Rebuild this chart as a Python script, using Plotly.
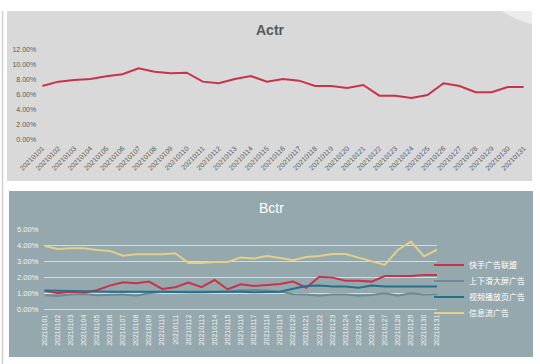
import plotly.graph_objects as go

dates = [f"202101{d:02d}" for d in range(1, 32)]

actr = [7.20, 7.78, 8.00, 8.13, 8.49, 8.76, 9.56, 9.10, 8.89, 8.98, 7.78, 7.56, 8.13, 8.53, 7.78,
        8.13, 7.91, 7.20, 7.20, 6.93, 7.33, 5.91, 5.91, 5.60, 6.00, 7.56, 7.20, 6.36, 6.36, 7.07, 7.07]

kuaishou = [1.17, 1.00, 1.08, 1.04, 1.19, 1.48, 1.69, 1.63, 1.73, 1.27, 1.38, 1.67, 1.38, 1.83, 1.25,
            1.56, 1.46, 1.50, 1.58, 1.73, 1.35, 2.04, 1.98, 1.79, 1.79, 1.73, 2.08, 2.08, 2.08, 2.15, 2.15]
huaping = [0.88, 0.83, 0.92, 0.96, 0.88, 0.92, 0.92, 0.85, 1.00, 1.10, 1.12, 1.12, 1.12, 1.12, 1.12,
           1.19, 1.21, 1.17, 1.12, 0.94, 0.92, 0.85, 0.92, 0.92, 0.85, 0.90, 1.00, 0.85, 1.00, 0.92, 0.94]
shipin = [1.17, 1.15, 1.15, 1.13, 1.10, 1.10, 1.10, 1.08, 1.10, 1.10, 1.06, 1.06, 1.06, 1.10, 1.10,
          1.10, 1.06, 1.08, 1.10, 1.29, 1.46, 1.48, 1.42, 1.42, 1.35, 1.48, 1.42, 1.42, 1.42, 1.42, 1.42]
xinxiliu = [3.96, 3.77, 3.81, 3.81, 3.71, 3.65, 3.35, 3.44, 3.44, 3.44, 3.50, 2.90, 2.90, 2.96, 2.96,
            3.23, 3.17, 3.33, 3.21, 3.06, 3.27, 3.33, 3.46, 3.46, 3.23, 3.00, 2.77, 3.71, 4.23, 3.31, 3.73]

b_names = ["快手广告联盟", "上下滑大屏广告", "视频播放页广告", "信息流广告"]
b_series = [kuaishou, huaping, shipin, xinxiliu]
b_colors = ["#c8334b", "#6d8a94", "#24718a", "#e3cf86"]

W, H = 540, 364
def px(x):
    return x / W
def py(y):
    return 1 - y / H

FONT = "Liberation Sans, Noto Sans CJK SC, sans-serif"

fig = go.Figure()

fig.add_trace(go.Scatter(x=dates, y=[v / 100 for v in actr], mode="lines",
                         line=dict(color="#c8334b", width=2), showlegend=False,
                         xaxis="x", yaxis="y", name="Actr"))

legends = ["legend", "legend2", "legend3", "legend4"]
for name, vals, col, lg in zip(b_names, b_series, b_colors, legends):
    fig.add_trace(go.Scatter(x=dates, y=[v / 100 for v in vals], mode="lines", name=name,
                             line=dict(color=col, width=2), xaxis="x2", yaxis="y2", legend=lg))

band1 = (516 - 50) / 30
band2 = (430.8 - 50.7) / 30

shapes = [
    dict(type="rect", xref="paper", yref="paper", x0=px(7), x1=px(532), y0=py(181), y1=py(11),
         fillcolor="#d9d9d9", line=dict(width=0), layer="below"),
    dict(type="circle", xref="paper", yref="paper", x0=px(555 - 97), x1=px(555 + 97),
         y0=py(-70 + 97), y1=py(-70 - 97), fillcolor="rgba(255,255,255,0.5)",
         line=dict(width=0), layer="below"),
    dict(type="rect", xref="paper", yref="paper", x0=px(9), x1=px(533), y0=py(357), y1=py(191),
         fillcolor="#95a8ae", line=dict(width=0), layer="below"),
    dict(type="line", xref="paper", yref="paper", x0=px(2.5), x1=px(2.5), y0=py(364), y1=py(11),
         line=dict(color="#d0d0d0", width=1.5), layer="below"),
]

legend_ys = [265, 281, 297, 313]
layout_legends = {}
for lg, yy in zip(legends, legend_ys):
    layout_legends[lg] = dict(x=px(429), y=py(yy), xanchor="left", yanchor="middle",
                              bgcolor="rgba(0,0,0,0)", borderwidth=0,
                              font=dict(family=FONT, size=8, color="#ffffff"),
                              itemwidth=30, tracegroupgap=0)

fig.update_layout(
    width=W, height=H,
    margin=dict(l=0, r=0, t=0, b=0, autoexpand=False),
    paper_bgcolor="#ffffff",
    plot_bgcolor="rgba(0,0,0,0)",
    font=dict(family=FONT),
    showlegend=True,
    shapes=shapes,
    xaxis=dict(domain=[px(50 - band1 / 2), px(516 + band1 / 2)], anchor="y", type="category",
               tickangle=-45, tickfont=dict(size=7, color="#595959"), showgrid=False,
               showline=False, zeroline=False, ticks="", ticklabelstandoff=2, automargin=False),
    yaxis=dict(domain=[py(140), py(50)], anchor="x", range=[0, 0.12], dtick=0.02,
               tickformat=".2%", tickfont=dict(size=7, color="#595959"), showgrid=False,
               zeroline=False, showline=False, ticks="", ticklabelstandoff=5, automargin=False),
    xaxis2=dict(domain=[px(50.7 - band2 / 2), px(430.8 + band2 / 2)], anchor="y2", type="category",
                tickangle=-90, tickfont=dict(size=7, color="#f2f2f2"), showgrid=False,
                showline=False, zeroline=False, ticks="", ticklabelstandoff=3, automargin=False),
    yaxis2=dict(domain=[py(309.3), py(229.3)], anchor="x2", range=[0, 0.05], dtick=0.01,
                tickformat=".2%", tickfont=dict(size=7.5, color="#f2f2f2"), showgrid=True,
                gridcolor="#d9d9d9", gridwidth=1, zeroline=True, zerolinecolor="#d9d9d9",
                zerolinewidth=1, showline=False, ticks="", ticklabelstandoff=5, automargin=False),
    annotations=[
        dict(text="<b>Actr</b>", xref="paper", yref="paper", x=px(270), y=py(30),
             xanchor="center", yanchor="middle", showarrow=False,
             font=dict(family=FONT, size=14, color="#595959")),
        dict(text="Bctr", xref="paper", yref="paper", x=px(271), y=py(208),
             xanchor="center", yanchor="middle", showarrow=False,
             font=dict(family=FONT, size=14, color="#ffffff")),
    ],
    **layout_legends,
)

fig.write_html("out.html", config={"displayModeBar": False},
               post_script="document.body.style.margin='0';document.body.style.overflow='hidden';")
